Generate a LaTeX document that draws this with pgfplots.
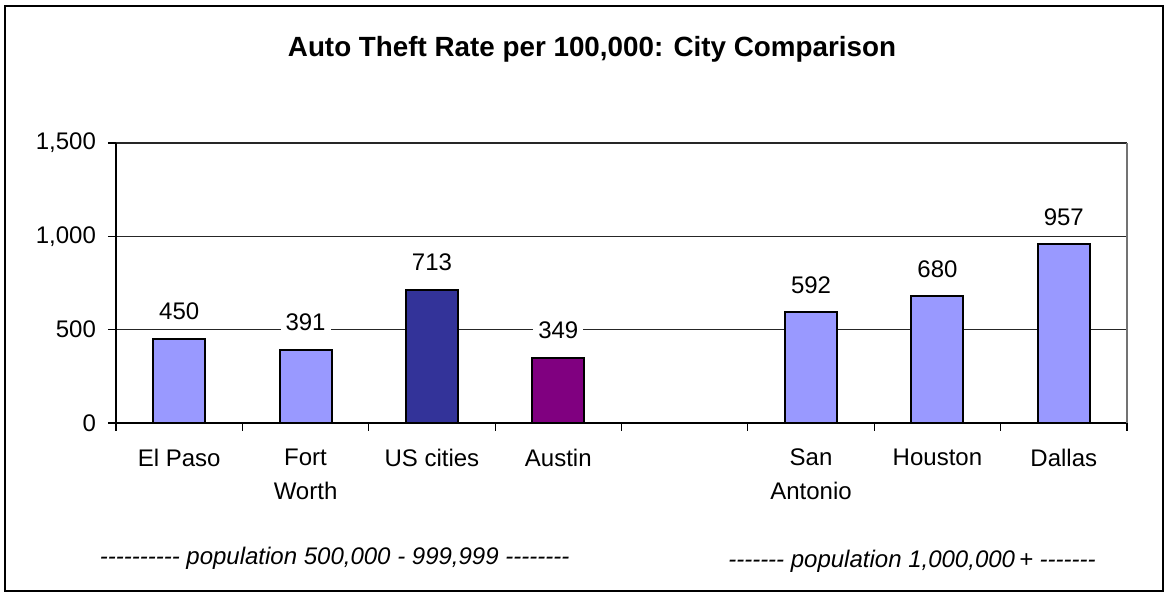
\documentclass[border=0pt]{standalone}
\usepackage{fontspec}
\setmainfont{Liberation Sans}[Ligatures=TeXOff]
\usepackage{pgfplots}
\pgfplotsset{compat=1.18}

\definecolor{lightbar}{HTML}{9999FF}
\definecolor{darkbar}{HTML}{333399}
\definecolor{purplebar}{HTML}{800080}

\newcommand{\chartfont}{\fontsize{12}{17}\selectfont}

\begin{document}
\begin{tikzpicture}
  \path[use as bounding box] (0,0) rectangle (584.5pt,298.5pt);
  \draw[black, line width=0.8pt] (2.5pt,3pt) rectangle (581.5pt,295.5pt);
  \node[font=\bfseries\fontsize{13.9}{16}\selectfont] at (296pt,274pt)
    {Auto Theft Rate per 100,000: City Comparison};

  \begin{axis}[
      at={(58pt,87pt)}, anchor=south west,
      scale only axis,
      width=505.5pt, height=140pt,
      ybar,
      bar width=26pt,
      xmin=-0.5, xmax=7.5,
      ymin=0, ymax=1500,
      axis x line*=bottom,
      axis y line*=left,
      axis line style={black, line width=0.7pt, -},
      ytick={0,500,1000,1500},
      ymajorgrids,
      grid style={black!85, line width=0.55pt},
      y tick label style={font=\chartfont, xshift=-2.5pt},
      yticklabel style={/pgf/number format/.cd, 1000 sep={,}, assume math mode=true},
      ytick style={black, line width=0.6pt},
      tick align=outside,
      major tick length=4pt,
      xtick={0,...,7},
      xticklabels={El Paso, Fort\\Worth, US cities, Austin, {}, San\\Antonio, Houston, Dallas},
      x tick label style={font=\chartfont, align=center, yshift=-5.5pt},
      major x tick style={draw=none},
      extra x ticks={-0.5,0.5,...,7.5},
      extra x tick labels={},
      extra x tick style={grid=none, major x tick style={draw=black, line width=0.6pt}},
      nodes near coords,
      nodes near coords style={font=\chartfont, fill=white, inner xsep=2.5pt, inner ysep=1pt,
        anchor=south, yshift=8pt, text depth=0pt},
      every node near coord/.append style={/pgf/number format/assume math mode=true},
      clip=false,
    ]
    \addplot[fill=lightbar, draw=black, line width=1pt, bar shift=0pt]
      coordinates {(0,450) (1,391) (5,592) (6,680) (7,957)};
    \addplot[fill=darkbar, draw=black, line width=1pt, bar shift=0pt]
      coordinates {(2,713)};
    \addplot[fill=purplebar, draw=black, line width=1pt, bar shift=0pt]
      coordinates {(3,349)};
    \draw[black!55, line width=0.6pt] (rel axis cs:1,0) -- (rel axis cs:1,1);
  \end{axis}

  \node[font=\itshape\chartfont] at (167.3pt,19.2pt)
    {---------- population 500,000 - 999,999 --------};
  \node[font=\itshape\chartfont] at (456pt,17.8pt)
    {------- population 1,000,000\kern2pt+ -------};
\end{tikzpicture}
\end{document}
